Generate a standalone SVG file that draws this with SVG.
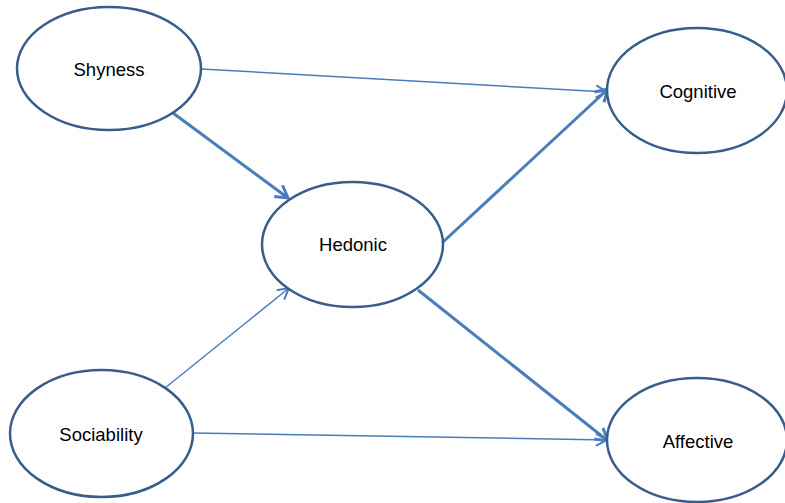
<svg xmlns="http://www.w3.org/2000/svg" width="785" height="503" viewBox="0 0 785 503">
<style>
.node ellipse{fill:#ffffff;stroke:#385d8a;stroke-width:2.5}
.node text{font-family:"Liberation Sans",Arial,sans-serif;font-size:18.5px;fill:#000;text-anchor:middle;dominant-baseline:central}
.thin{stroke:#4a7ebb;stroke-width:1.5;fill:none;marker-end:url(#arrT)}
.thick{stroke:#4a7ebb;stroke-width:3;fill:none;marker-end:url(#arrK)}
</style>
<defs>
<marker id="arrT" markerUnits="userSpaceOnUse" viewBox="-14 -8 16 16" markerWidth="16" markerHeight="16" refX="0" refY="0" orient="auto">
<path d="M-11,-6 L0,0 L-11,6" fill="none" stroke="#4a7ebb" stroke-width="2"/>
</marker>
<marker id="arrK" markerUnits="userSpaceOnUse" viewBox="-16 -9 18 18" markerWidth="18" markerHeight="18" refX="0" refY="0" orient="auto">
<path d="M-12,-7 L0,0 L-12,7" fill="none" stroke="#4a7ebb" stroke-width="3"/>
</marker>
</defs>
<g id="connectors">
<line class="thin" x1="201" y1="69" x2="607" y2="92"/>
<line class="thick" x1="173" y1="113" x2="288" y2="198"/>
<line class="thick" x1="443" y1="242" x2="608" y2="89"/>
<line class="thin" x1="165" y1="388" x2="289" y2="288"/>
<line class="thin" x1="193" y1="433" x2="607" y2="440"/>
<line class="thick" x1="418" y1="290" x2="608" y2="441"/>
</g>
<g id="shyness" class="node"><ellipse cx="109" cy="68.5" rx="92" ry="61.5"/><text x="109" y="69">Shyness</text></g>
<g id="cognitive" class="node"><ellipse cx="697" cy="90.5" rx="90" ry="62.5"/><text x="698" y="91">Cognitive</text></g>
<g id="hedonic" class="node"><ellipse cx="352.5" cy="244.5" rx="90.5" ry="62.5"/><text x="353" y="244">Hedonic</text></g>
<g id="sociability" class="node"><ellipse cx="101.5" cy="433.5" rx="91.5" ry="63.5"/><text x="101" y="434">Sociability</text></g>
<g id="affective" class="node"><ellipse cx="697" cy="440" rx="90" ry="62"/><text x="698" y="441">Affective</text></g>
</svg>
